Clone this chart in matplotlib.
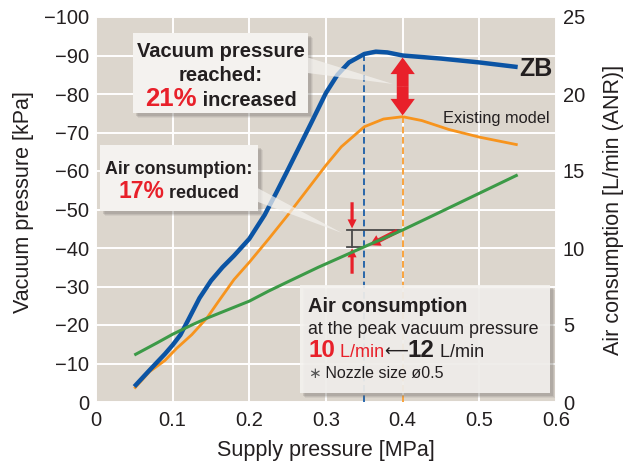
import numpy as np
import matplotlib
matplotlib.use("Agg")
import matplotlib.pyplot as plt
from matplotlib.patches import FancyArrowPatch, Rectangle, Polygon
from matplotlib.transforms import IdentityTransform

plt.rcParams['font.family'] = ['Liberation Sans', 'DejaVu Sans']

# ---------------- data ----------------
zb_x = [0.05, 0.07, 0.09, 0.10, 0.11, 0.12, 0.135, 0.15, 0.165, 0.18, 0.20, 0.22, 0.235, 0.25,
        0.265, 0.28, 0.30, 0.315, 0.33, 0.35, 0.365, 0.38, 0.40, 0.45, 0.50, 0.55]
zb_vac = [-4, -8.3, -12.5, -14.8, -17.4, -21.2, -27, -31.5, -35, -38, -42.4, -48.6, -54.3, -60.2,
          -66.2, -72.2, -80.3, -85, -88.2, -90.4, -91, -90.8, -90, -89.2, -88.2, -87]

ex_x = [0.05, 0.07, 0.09, 0.105, 0.125, 0.145, 0.16, 0.18, 0.20, 0.225, 0.25, 0.275, 0.30, 0.32,
        0.35, 0.375, 0.40, 0.425, 0.46, 0.50, 0.55]
ex_vac = [-3.5, -7.9, -10.8, -13.9, -17.5, -21.9, -26.2, -31.8, -36.3, -42.3, -48.5, -55, -61.5,
          -66.3, -71.5, -73.5, -74.1, -73.1, -70.8, -68.8, -66.8]

air_x = [0.05, 0.08, 0.10, 0.127, 0.145, 0.17, 0.20, 0.225, 0.25, 0.29, 0.35, 0.40, 0.435, 0.55]
air_flow = [3.05, 3.85, 4.4, 5.05, 5.45, 5.95, 6.55, 7.2, 7.8, 8.75, 10.08, 11.17, 12.0, 14.75]

peak_zb_x = 0.35
peak_ex_x = 0.40

x_ticks = [0, 0.1, 0.2, 0.3, 0.4, 0.5, 0.6]
x_tick_labels = ['0', '0.1', '0.2', '0.3', '0.4', '0.5', '0.6']
vac_ticks = [0, -10, -20, -30, -40, -50, -60, -70, -80, -90, -100]
vac_tick_labels = ['0', '\u221210', '\u221220', '\u221230', '\u221240', '\u221250',
                   '\u221260', '\u221270', '\u221280', '\u221290', '\u2212100']
flow_ticks = [0, 5, 10, 15, 20, 25]
flow_tick_labels = ['0', '5', '10', '15', '20', '25']

# ---------------- style ----------------
W, H = 637, 463
BLUE = '#0b54a4'
ORANGE = '#f7941d'
GREEN = '#3c9a47'
RED = '#e8202a'
DARK = '#231f20'
BG = '#dcd6cd'
BOXC = '#f4f2ef'
IDT = IdentityTransform()


def P(x, y):
    return (x, H - y)


fig = plt.figure(figsize=(W / 100, H / 100), dpi=100)
ax = fig.add_axes([96 / W, (H - 402) / H, 460 / W, 385 / H])
ax.set_facecolor(BG)
ax.set_xlim(0, 0.6)
ax.set_ylim(0, -100)
for s in ax.spines.values():
    s.set_visible(False)
ax.set_xticks(x_ticks)
ax.set_xticklabels(x_tick_labels)
ax.set_yticks(vac_ticks)
ax.set_yticklabels(vac_tick_labels)
ax.grid(True, color='white', lw=1.4)
ax.set_axisbelow(True)
ax.tick_params(length=0, labelsize=14.5, colors=DARK, pad=5)
ax.tick_params(axis='x', pad=6.5)
ax.set_xlabel('Supply pressure [MPa]', fontsize=15.5, color=DARK, labelpad=7)
ax.set_ylabel('Vacuum pressure [kPa]', fontsize=15.5, color=DARK)
ax.yaxis.set_label_coords(-0.135, 0.52)

ax2 = ax.twinx()
ax2.set_ylim(0, 25)
for s in ax2.spines.values():
    s.set_visible(False)
ax2.set_yticks(flow_ticks)
ax2.set_yticklabels(flow_tick_labels)
ax2.tick_params(length=0, labelsize=14.5, colors=DARK, pad=5)
ax2.set_ylabel('Air consumption [L/min (ANR)]', fontsize=15.5, color=DARK)
ax2.yaxis.set_label_coords(1.102, 0.5)

# dashed guide lines at the peaks
zb_peak_val = np.interp(peak_zb_x, zb_x, zb_vac)
ex_peak_val = np.interp(peak_ex_x, ex_x, ex_vac)
ax.plot([peak_zb_x, peak_zb_x], [0, zb_peak_val], color=BLUE, lw=1.2, dashes=(4, 2.2), zorder=2)
ax.plot([peak_ex_x, peak_ex_x], [0, ex_peak_val], color=ORANGE, lw=1.2, dashes=(4, 2.2), zorder=2)

# curves
ax.plot(ex_x, ex_vac, color=ORANGE, lw=2.0, solid_joinstyle='round', solid_capstyle='butt', zorder=3)
ax.plot(zb_x, zb_vac, color=BLUE, lw=3.2, solid_joinstyle='round', solid_capstyle='butt', zorder=4)
ax2.plot(air_x, air_flow, color=GREEN, lw=2.2, solid_joinstyle='round', solid_capstyle='butt', zorder=3)

# air consumption bracket (in vacuum-axis units: 25 L/min == 100 kPa)
g_zb = np.interp(peak_zb_x, air_x, air_flow) * -4
g_ex = np.interp(peak_ex_x, air_x, air_flow) * -4
bx = 0.327
vx = 0.334
ax.plot([bx, peak_ex_x], [g_ex, g_ex], color='#4a4a4a', lw=1.3, zorder=5)
ax.plot([bx, peak_zb_x], [g_zb, g_zb], color='#4a4a4a', lw=1.3, zorder=5)
ax.plot([vx, vx], [g_ex, g_zb], color='#4a4a4a', lw=1.3, zorder=5)


def arrow(ax_, p0, p1, hl, hw, tw):
    a = FancyArrowPatch(p0, p1, arrowstyle=f'simple,head_length={hl},head_width={hw},tail_width={tw}',
                        mutation_scale=1, color=RED, shrinkA=0, shrinkB=0, zorder=6, lw=0)
    ax_.add_patch(a)


arrow(ax, (vx, g_ex - 7.2), (vx, g_ex - 0.4), 6.5, 6.5, 2.3)
arrow(ax, (vx, g_zb + 7.0), (vx, g_zb + 0.4), 6.5, 6.5, 2.3)
arrow(ax, (0.393, g_ex + 0.3), (0.357, g_zb - 0.4), 7.5, 8.5, 3.4)

# big double arrow between peaks at x = 0.4
zb_at_ex = np.interp(peak_ex_x, zb_x, zb_vac)
mid = (zb_at_ex + ex_peak_val) / 2
arrow(ax, (peak_ex_x, mid), (peak_ex_x, zb_at_ex + 0.5), 12, 17.5, 8.5)
arrow(ax, (peak_ex_x, mid), (peak_ex_x, ex_peak_val - 0.3), 12, 17.5, 8.5)

# series labels
ax.text(0.552, -86.5, 'ZB', fontsize=18, fontweight='bold', color=DARK, va='center', ha='left')
ax.text(0.453, -73.7, 'Existing model', fontsize=11.8, color=DARK, va='center', ha='left')


# ---------------- callout boxes (pixel placement) ----------------
def box(x0, y0, x1, y1, alpha=1.0, shadow=True):
    if shadow:
        for off, a in [(5, 0.10), (4, 0.15), (3, 0.2)]:
            fig.add_artist(Rectangle(P(x0 + off, y1 + off), x1 - x0, y1 - y0, transform=IDT,
                                     facecolor='#6e6a64', edgecolor='none', alpha=a, zorder=10))
    fig.add_artist(Rectangle(P(x0, y1), x1 - x0, y1 - y0, transform=IDT,
                             facecolor=BOXC, edgecolor='none', alpha=alpha, zorder=11))


def wedge(pts):
    fig.add_artist(Polygon([P(*p) for p in pts], closed=True, transform=IDT,
                           facecolor=BOXC, edgecolor='none', alpha=0.72, zorder=10.5))


renderer = fig.canvas.get_renderer()


def rich(parts, x, y, center=True):
    texts = []
    for s, props in parts:
        t = fig.text(0, 0, s, transform=IDT, va='baseline', ha='left', zorder=12, **props)
        texts.append(t)
    widths = [t.get_window_extent(renderer).width for t in texts]
    start = x - sum(widths) / 2 if center else x
    for t, w in zip(texts, widths):
        t.set_position(P(start, y))
        start += w


B = dict(fontweight='bold', color=DARK)

# box 1: vacuum pressure reached
wedge([(300, 55), (300, 72), (393, 84)])
box(133, 33, 308, 113)
rich([('Vacuum pressure', dict(fontsize=14.5, **B))], 221, 57)
rich([('reached:', dict(fontsize=14.5, **B))], 221, 81)
rich([('21%', dict(fontsize=18.5, fontweight='bold', color=RED)),
      (' increased', dict(fontsize=14.5, **B))], 221, 106)

# box 2: air consumption reduced
wedge([(250, 184), (250, 199), (342, 233)])
box(100, 145, 258, 211)
rich([('Air consumption:', dict(fontsize=12.8, **B))], 179, 174)
rich([('17%', dict(fontsize=16.5, fontweight='bold', color=RED)),
      (' reduced', dict(fontsize=13, **B))], 179, 198)

# box 3: air consumption at peak
box(300, 285, 550, 393, alpha=0.9)
rich([('Air consumption', dict(fontsize=14.5, **B))], 308, 312, center=False)
rich([('at the peak vacuum pressure', dict(fontsize=12.9, color=DARK))], 308, 334, center=False)
rich([('10', dict(fontsize=17.5, fontweight='bold', color=RED)),
      (' L/min', dict(fontsize=13, color=RED)),
      ('\u27f5', dict(fontsize=12, color=DARK)),
      ('12', dict(fontsize=17.5, fontweight='bold', color=DARK)),
      (' L/min', dict(fontsize=13, color=DARK))], 308, 357, center=False)
rich([('\u2217', dict(fontsize=11, color='#555555')),
      (' Nozzle size \u00f80.5', dict(fontsize=11.5, color=DARK))], 308, 378, center=False)

fig.savefig('out.png', dpi=100)
